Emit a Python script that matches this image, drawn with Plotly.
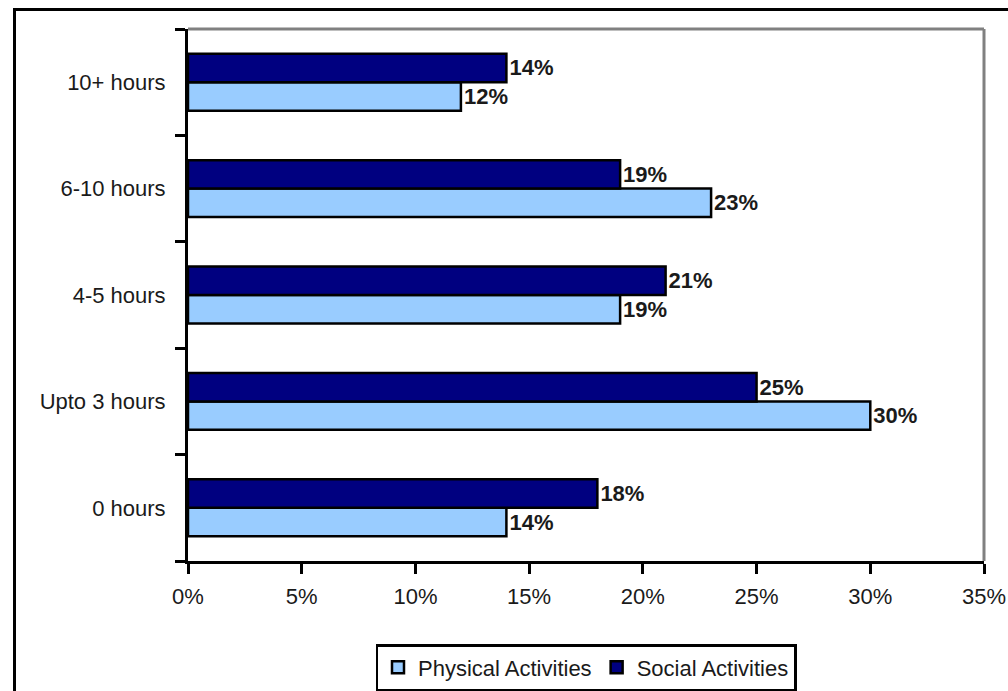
import plotly.graph_objects as go

# Hours per week spent on activities, share of respondents
categories = ["0 hours", "Upto 3 hours", "4-5 hours", "6-10 hours", "10+ hours"]
physical = [0.14, 0.30, 0.19, 0.23, 0.12]
social = [0.18, 0.25, 0.21, 0.19, 0.14]
x_ticks = [0, 0.05, 0.10, 0.15, 0.20, 0.25, 0.30, 0.35]

FONT = "Liberation Sans, Arial, sans-serif"
TEXT_COLOR = "#1a1a1a"

fig = go.Figure()
fig.add_trace(go.Bar(
    y=categories, x=physical, orientation="h", name="Physical Activities",
    marker=dict(color="#99CCFF", line=dict(color="black", width=2.5)),
    texttemplate="%{x:.0%}", textposition="outside", constraintext="none",
    cliponaxis=False,
    textfont=dict(family=FONT, size=22, color=TEXT_COLOR, weight="bold"),
))
fig.add_trace(go.Bar(
    y=categories, x=social, orientation="h", name="Social Activities",
    marker=dict(color="#000080", line=dict(color="black", width=2.5)),
    texttemplate="%{x:.0%}", textposition="outside", constraintext="none",
    cliponaxis=False,
    textfont=dict(family=FONT, size=22, color=TEXT_COLOR, weight="bold"),
))

L, R, T, B = 188, 24, 29, 130
W, H = 1008, 691
pw, ph = W - L - R, H - T - B

def px_x(v):
    return (v - L) / pw

def px_y(v):
    return (H - B - v) / ph

shapes = [
    # grey frame on top and right of the plotting area
    dict(type="line", xref="paper", yref="paper", x0=0, x1=1, y0=1, y1=1,
         line=dict(color="#808080", width=3), layer="below"),
    dict(type="line", xref="paper", yref="paper", x0=1, x1=1, y0=0, y1=1,
         line=dict(color="#808080", width=3), layer="below"),
    # outer chart border
    dict(type="rect", xref="paper", yref="paper",
         x0=px_x(14.5), x1=px_x(1020), y0=px_y(705), y1=px_y(9.5),
         line=dict(color="black", width=3), fillcolor="rgba(0,0,0,0)"),
]

fig.update_layout(
    width=W, height=H,
    margin=dict(l=L, r=R, t=T, b=B, pad=0, autoexpand=False),
    paper_bgcolor="white", plot_bgcolor="white",
    barmode="group", bargap=0.465, bargroupgap=0,
    font=dict(family=FONT, size=22, color=TEXT_COLOR),
    shapes=shapes,
    showlegend=True,
    legend=dict(
        orientation="h", x=0.5, xanchor="center", y=px_y(644), yanchor="top",
        bordercolor="black", borderwidth=2.5, bgcolor="white",
        font=dict(family=FONT, size=22, color=TEXT_COLOR),
        traceorder="normal", itemwidth=30,
    ),
    xaxis=dict(
        range=[0, 0.35], tickvals=x_ticks, tickformat=".0%",
        showgrid=False, zeroline=False, automargin=False,
        showline=True, linecolor="black", linewidth=3,
        ticks="outside", ticklen=10, tickwidth=3, tickcolor="black",
        tickfont=dict(family=FONT, size=22, color=TEXT_COLOR),
        ticklabelstandoff=4,
    ),
    yaxis=dict(
        categoryorder="array", categoryarray=categories,
        showgrid=False, zeroline=False, automargin=False,
        showline=True, linecolor="black", linewidth=3,
        ticks="outside", ticklen=10, tickwidth=3, tickcolor="black",
        tickson="boundaries",
        tickfont=dict(family=FONT, size=22, color=TEXT_COLOR),
        ticklabelstandoff=15,
    ),
)

fig.write_html("out.html")
